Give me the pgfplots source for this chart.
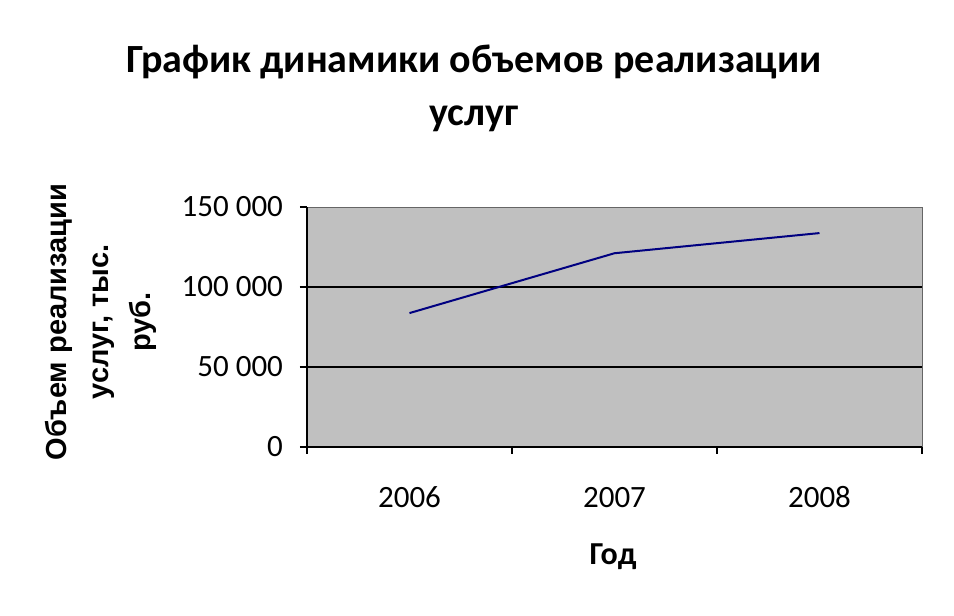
\documentclass[border=0pt]{standalone}
\usepackage{fontspec}
\setmainfont{Carlito}
\newfontfamily\arialfont{Liberation Sans}
\usepackage{pgfplots}
\usepackage{pgfplotstable}
\pgfplotsset{compat=1.18}
\definecolor{plotgray}{RGB}{192,192,192}
\definecolor{navyline}{RGB}{0,0,128}

% объем реализации услуг, тыс. руб. (1 = 2006, 2 = 2007, 3 = 2008)
\pgfplotstableread{
year value
1 83700
2 121100
3 133700
}\salesdata

\begin{document}
\begin{tikzpicture}
\useasboundingbox (0,0) rectangle (477pt,308pt);
\begin{axis}[
    at={(153.5pt,84.5pt)}, anchor=south west,
    scale only axis, width=307.5pt, height=120pt,
    xmin=0.5, xmax=3.5, ymin=0, ymax=150000,
    axis x line*=bottom, axis y line*=left,
    axis line style={black, line width=0.8pt, -},
    axis background/.style={fill=plotgray, draw=gray!80!black, line width=0.4pt},
    tick align=outside,
    major tick length=3.5pt, minor tick length=3.5pt,
    xtick={1,2,3}, xticklabels={2006,2007,2008},
    major x tick style={draw=none},
    minor xtick={0.5,1.5,2.5,3.5},
    minor x tick style={black, line width=0.8pt},
    xticklabel style={anchor=base, yshift=-27pt, font=\fontsize{15.5}{18}\selectfont},
    ytick={0,50000,100000,150000},
    y tick style={black, line width=0.8pt},
    extra y ticks={50000,100000},
    extra y tick labels={},
    extra y tick style={grid=major, major grid style={black, line width=0.8pt}},
    scaled y ticks=false,
    /pgf/number format/assume math mode=true,
    yticklabel style={/pgf/number format/fixed, /pgf/number format/1000 sep={\ },
      font=\fontsize{15.5}{18}\selectfont, xshift=-5pt},
    title={График динамики объемов реализации\\услуг},
    title style={at={(axis description cs:0.2715,1.446)}, anchor=center, align=center,
      font=\fontsize{20}{26.5}\selectfont\bfseries},
    ylabel={Объем реализации\\услуг, тыс.\\руб.},
    ylabel style={at={(axis description cs:-0.335,0.521)}, anchor=center, align=center,
      font=\arialfont\bfseries\fontsize{14.5}{21}\selectfont},
    xlabel={Год},
    xlabel style={at={(axis description cs:0.4976,-0.458)}, anchor=center,
      font=\fontsize{16}{19}\selectfont\bfseries},
  ]
  \addplot[navyline, line width=1pt, mark=none] table[x=year, y=value] {\salesdata};
\end{axis}
\end{tikzpicture}
\end{document}
